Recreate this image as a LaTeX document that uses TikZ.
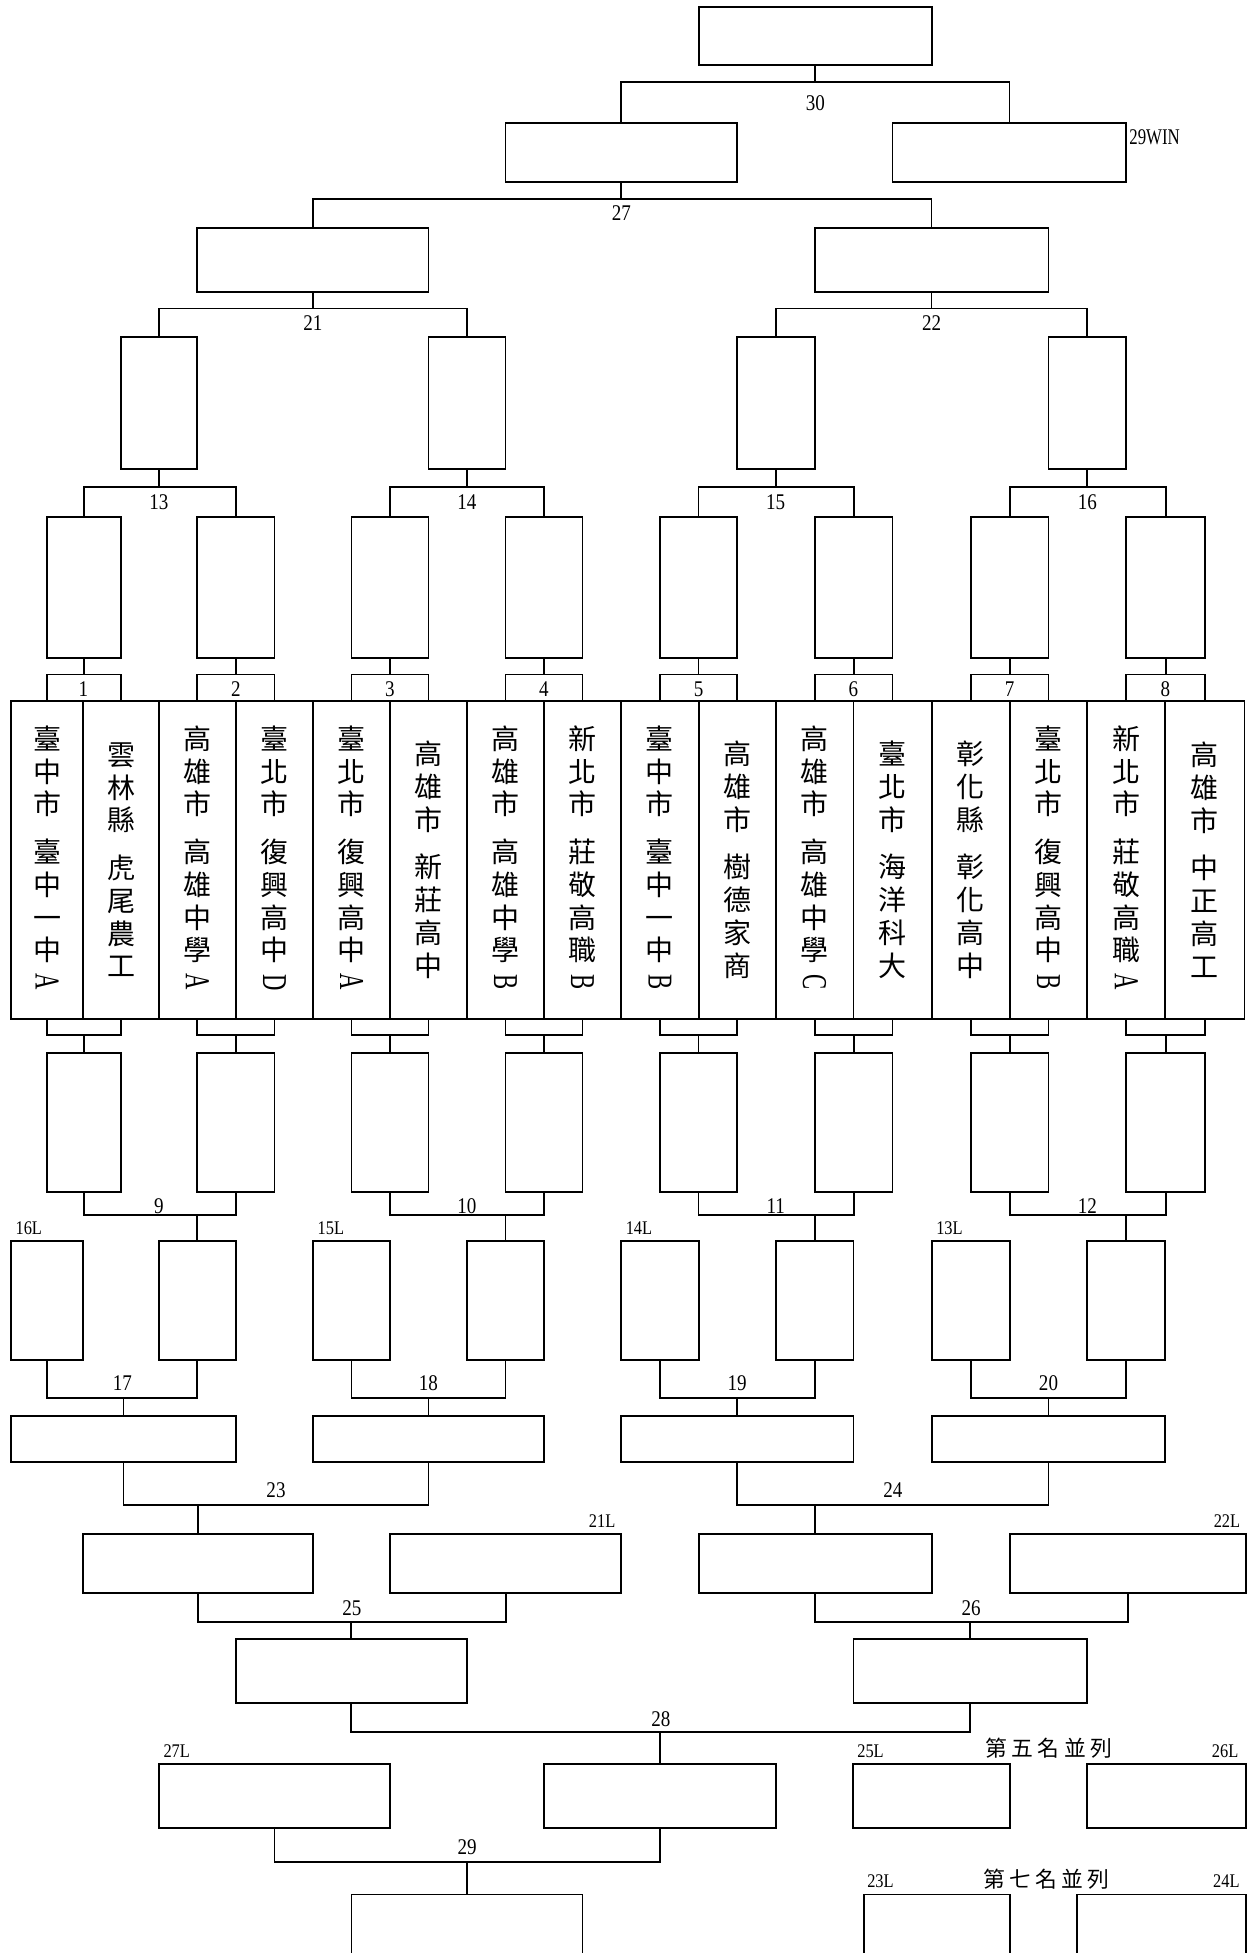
\documentclass[tikz,border=0pt]{standalone}
\usepackage{fontspec}
\newfontfamily\cjk{Noto Sans CJK TC}
\newfontfamily\numfont[FakeStretch=0.85]{Liberation Serif}
\newfontfamily\winfont[FakeStretch=0.75]{Liberation Serif}
\newfontfamily\latfont[FakeStretch=0.65]{Liberation Serif}
\usetikzlibrary{calc}
\newcommand\rotL[1]{\rotatebox[origin=c]{-90}{\latfont\fontsize{28}{28}\selectfont #1}}
\newcommand\gp{\\[12pt]}
\tikzset{
  ln/.style={line width=1.5pt, line join=miter},
  box/.style={draw, line width=1.5pt, rectangle, inner sep=0pt, outer sep=0pt},
  team/.style={box, align=center, font=\cjk\fontsize{22.5}{26.3}\selectfont},
  num/.style={inner sep=0pt, font=\numfont\fontsize{18}{18}\selectfont},
  lab/.style={inner sep=0pt, font=\numfont\fontsize{15.5}{15.5}\selectfont},
  rank/.style={inner sep=0pt, font=\cjk\fontsize{17.5}{17.5}\selectfont},
}
\newcommand\bx[5]{\pgfmathsetmacro\bw{#4-#2}\pgfmathsetmacro\bh{#5-#3}\pgfmathsetmacro\bcx{(#2+#4)/2}\pgfmathsetmacro\bcy{(#3+#5)/2}\node[box, minimum width=\bw pt, minimum height=\bh pt] (#1) at (\bcx,\bcy) {};}
\newcommand\tm[4]{\pgfmathsetmacro\bw{#3-#2}\pgfmathsetmacro\bcx{(#2+#3)/2}\node[team, minimum width=\bw pt, minimum height=255.2pt] (#1) at (\bcx,690.2) {#4};}
\newcommand\jn[4]{\draw[ln] (#1) -- (#1 |- 0,#4) -- (#2 |- 0,#4) -- (#2); \draw[ln] (#3) -- (#3 |- 0,#4);}
\begin{document}
\begin{tikzpicture}[x=1pt,y=-1pt]
\useasboundingbox (0,0) rectangle (1004,1568);
\clip (0,0) rectangle (1004,1568);
% ---------- team row ----------
\tm{t1}{8.8}{66.9}{臺\\中\\市\gp 臺\\中\\一\\中\\\rotL{A}}
\tm{t2}{66.9}{127.6}{雲\\林\\縣\gp 虎\\尾\\農\\工}
\tm{t3}{127.6}{189.4}{高\\雄\\市\gp 高\\雄\\中\\學\\\rotL{A}}
\tm{t4}{189.4}{251.4}{臺\\北\\市\gp 復\\興\\高\\中\\\rotL{D}}
\tm{t5}{251.4}{313.1}{臺\\北\\市\gp 復\\興\\高\\中\\\rotL{A}}
\tm{t6}{313.1}{374.9}{高\\雄\\市\gp 新\\莊\\高\\中}
\tm{t7}{374.9}{436.7}{高\\雄\\市\gp 高\\雄\\中\\學\\\rotL{B}}
\tm{t8}{436.7}{498.7}{新\\北\\市\gp 莊\\敬\\高\\職\\\rotL{B}}
\tm{t9}{498.7}{560.9}{臺\\中\\市\gp 臺\\中\\一\\中\\\rotL{B}}
\tm{t10}{560.9}{622.8}{高\\雄\\市\gp 樹\\德\\家\\商}
\tm{t11}{622.8}{685.2}{高\\雄\\市\gp 高\\雄\\中\\學\\\rotL{C}}
\tm{t12}{685.2}{748.0}{臺\\北\\市\gp 海\\洋\\科\\大}
\tm{t13}{748.0}{810.6}{彰\\化\\縣\gp 彰\\化\\高\\中}
\tm{t14}{810.6}{873.0}{臺\\北\\市\gp 復\\興\\高\\中\\\rotL{B}}
\tm{t15}{873.0}{935.6}{新\\北\\市\gp 莊\\敬\\高\\職\\\rotL{A}}
\tm{t16}{935.6}{999.2}{高\\雄\\市\gp 中\\正\\高\\工}
% ---------- upper bracket boxes ----------
\bx{a1}{37.85}{415}{97.25}{528}
\bx{a2}{158.5}{415}{220.4}{528}
\bx{a3}{282.25}{415}{344.0}{528}
\bx{a4}{405.8}{415}{467.7}{528}
\bx{a5}{529.8}{415}{591.85}{528}
\bx{a6}{654.0}{415}{716.6}{528}
\bx{a7}{779.3}{415}{841.8}{528}
\bx{a8}{904.3}{415}{967.4}{528}
\bx{q13}{97.25}{270.7}{158.5}{376.6}
\bx{q14}{344.0}{270.7}{405.8}{376.6}
\bx{q15}{591.85}{270.7}{654.0}{376.6}
\bx{q16}{841.8}{270.7}{904.3}{376.6}
\bx{r21}{158.5}{183}{344.0}{234.3}
\bx{r22}{654.0}{183}{841.8}{234.3}
\bx{w27}{405.8}{98.5}{591.85}{146}
\bx{w29}{716.6}{98.5}{904.3}{146}
\bx{champ}{561}{5.9}{748.2}{52.2}
% ---------- lower boxes ----------
\bx{l1}{37.85}{845.7}{97.25}{956.7}
\bx{l2}{158.5}{845.7}{220.4}{956.7}
\bx{l3}{282.25}{845.7}{344.0}{956.7}
\bx{l4}{405.8}{845.7}{467.7}{956.7}
\bx{l5}{529.8}{845.7}{591.85}{956.7}
\bx{l6}{654.0}{845.7}{716.6}{956.7}
\bx{l7}{779.3}{845.7}{841.8}{956.7}
\bx{l8}{904.3}{845.7}{967.4}{956.7}
\bx{L16}{8.8}{996.5}{66.9}{1092}
\bx{w9}{127.6}{996.5}{189.4}{1092}
\bx{L15}{251.4}{996.5}{313.1}{1092}
\bx{w10}{374.9}{996.5}{436.7}{1092}
\bx{L14}{498.7}{996.5}{560.9}{1092}
\bx{w11}{622.8}{996.5}{685.2}{1092}
\bx{L13}{748.0}{996.5}{810.6}{1092}
\bx{w12}{873.0}{996.5}{935.6}{1092}
\bx{s17}{8.8}{1136.5}{189.4}{1174}
\bx{s18}{251.4}{1136.5}{436.7}{1174}
\bx{s19}{498.7}{1136.5}{685.2}{1174}
\bx{s20}{748.0}{1136.5}{935.6}{1174}
\bx{s23}{66.9}{1231.4}{251.4}{1279.3}
\bx{L21}{313.1}{1231.4}{498.7}{1279.3}
\bx{s24}{560.9}{1231.4}{748.0}{1279.3}
\bx{L22}{810.6}{1231.4}{1000.4}{1279.3}
\bx{s25}{189.4}{1316.2}{374.9}{1367.6}
\bx{s26}{685.2}{1316.2}{873.0}{1367.6}
\bx{L27}{127.6}{1416.5}{313.1}{1467.6}
\bx{s28}{436.7}{1416.5}{622.8}{1467.6}
\bx{L25}{684.6}{1416.5}{810.6}{1467.6}
\bx{L26}{873.0}{1416.5}{1000.4}{1467.6}
\bx{s29}{282.25}{1521}{467.7}{1600}
\bx{L23}{693.6}{1521}{810.6}{1600}
\bx{L24}{865.0}{1521}{1000.4}{1600}
% ---------- connectors ----------
\jn{t1.north}{t2.north}{a1.south}{541.5}
\jn{t3.north}{t4.north}{a2.south}{541.5}
\jn{t5.north}{t6.north}{a3.south}{541.5}
\jn{t7.north}{t8.north}{a4.south}{541.5}
\jn{t9.north}{t10.north}{a5.south}{541.5}
\jn{t11.north}{t12.north}{a6.south}{541.5}
\jn{t13.north}{t14.north}{a7.south}{541.5}
\jn{t15.north}{t16.north}{a8.south}{541.5}
\jn{a1.north}{a2.north}{q13.south}{391.1}
\jn{a3.north}{a4.north}{q14.south}{391.1}
\jn{a5.north}{a6.north}{q15.south}{391.1}
\jn{a7.north}{a8.north}{q16.south}{391.1}
\jn{q13.north}{q14.north}{r21.south}{247.7}
\jn{q15.north}{q16.north}{r22.south}{247.7}
\jn{r21.north}{r22.north}{w27.south}{159.7}
\jn{w27.north}{w29.north}{champ.south}{65.6}
\jn{t1.south}{t2.south}{l1.north}{831.2}
\jn{t3.south}{t4.south}{l2.north}{831.2}
\jn{t5.south}{t6.south}{l3.north}{831.2}
\jn{t7.south}{t8.south}{l4.north}{831.2}
\jn{t9.south}{t10.south}{l5.north}{831.2}
\jn{t11.south}{t12.south}{l6.north}{831.2}
\jn{t13.south}{t14.south}{l7.north}{831.2}
\jn{t15.south}{t16.south}{l8.north}{831.2}
\jn{l1.south}{l2.south}{w9.north}{975.7}
\jn{l3.south}{l4.south}{w10.north}{975.7}
\jn{l5.south}{l6.south}{w11.north}{975.7}
\jn{l7.south}{l8.south}{w12.north}{975.7}
\jn{L16.south}{w9.south}{s17.north}{1122.3}
\jn{L15.south}{w10.south}{s18.north}{1122.3}
\jn{L14.south}{w11.south}{s19.north}{1122.3}
\jn{L13.south}{w12.south}{s20.north}{1122.3}
\jn{s17.south}{s18.south}{s23.north}{1208.4}
\jn{s19.south}{s20.south}{s24.north}{1208.4}
\jn{s23.south}{L21.south}{s25.north}{1302.3}
\jn{s24.south}{L22.south}{s26.north}{1302.3}
\jn{s25.south}{s26.south}{s28.north}{1390.6}
\jn{L27.south}{s28.south}{s29.north}{1495}
% ---------- match numbers ----------
\node[num] (m1) at (66.9,553.2) {1};
\node[num] (m2) at (189.4,553.2) {2};
\node[num] (m3) at (313.1,553.2) {3};
\node[num] (m4) at (436.7,553.2) {4};
\node[num] (m5) at (560.9,553.2) {5};
\node[num] (m6) at (685.2,553.2) {6};
\node[num] (m7) at (810.6,553.2) {7};
\node[num] (m8) at (935.6,553.2) {8};
\node[num] (m13) at (127.6,403.4) {13};
\node[num] (m14) at (374.9,403.4) {14};
\node[num] (m15) at (622.8,403.4) {15};
\node[num] (m16) at (873.0,403.4) {16};
\node[num] (m21) at (251.25,259.5) {21};
\node[num] (m22) at (747.9,259.5) {22};
\node[num] (m27) at (498.8,171.2) {27};
\node[num] (m30) at (654.6,82.9) {30};
\node[num] (m9) at (127.6,968.5) {9};
\node[num] (m10) at (374.9,968.5) {10};
\node[num] (m11) at (622.8,968.5) {11};
\node[num] (m12) at (873.0,968.5) {12};
\node[num] (m17) at (98.2,1110.8) {17};
\node[num] (m18) at (344.0,1110.8) {18};
\node[num] (m19) at (591.9,1110.8) {19};
\node[num] (m20) at (841.8,1110.8) {20};
\node[num] (m23) at (221.6,1196.5) {23};
\node[num] (m24) at (716.9,1196.5) {24};
\node[num] (m25) at (282.5,1290.8) {25};
\node[num] (m26) at (779.7,1290.8) {26};
\node[num] (m28) at (530.6,1380.4) {28};
\node[num] (m29) at (375.0,1483.4) {29};
% ---------- side labels ----------
\node[inner sep=0pt, font=\winfont\fontsize{18}{18}\selectfont, anchor=west] (t29win) at (906.5,110.5) {29WIN};
\node[lab, anchor=south west] (x16L) at ($(L16.north west)+(3.5,-5)$) {16L};
\node[lab, anchor=south west] (x15L) at ($(L15.north west)+(3.5,-5)$) {15L};
\node[lab, anchor=south west] (x14L) at ($(L14.north west)+(3.5,-5)$) {14L};
\node[lab, anchor=south west] (x13L) at ($(L13.north west)+(3.5,-5)$) {13L};
\node[lab, anchor=south east] (x21L) at ($(L21.north east)+(-4.5,-5)$) {21L};
\node[lab, anchor=south east] (x22L) at ($(L22.north east)+(-4.5,-5)$) {22L};
\node[lab, anchor=south west] (x27L) at ($(L27.north west)+(3.5,-5.5)$) {27L};
\node[lab, anchor=south west] (x25L) at ($(L25.north west)+(3.5,-5.5)$) {25L};
\node[lab, anchor=south east] (x26L) at ($(L26.north east)+(-6,-5.5)$) {26L};
\node[lab, anchor=south west] (x23L) at ($(L23.north west)+(2.5,-5.5)$) {23L};
\node[lab, anchor=south east] (x24L) at ($(L24.north east)+(-5,-5.5)$) {24L};
\node[rank] (rk5) at (842,1403.5) {第\hspace{3.5pt}五\hspace{3.5pt}名\hspace{3.5pt}並\hspace{3.5pt}列};
\node[rank] (rk7) at (840,1509) {第\hspace{3.5pt}七\hspace{3.5pt}名\hspace{3.5pt}並\hspace{3.5pt}列};
\end{tikzpicture}
\end{document}
